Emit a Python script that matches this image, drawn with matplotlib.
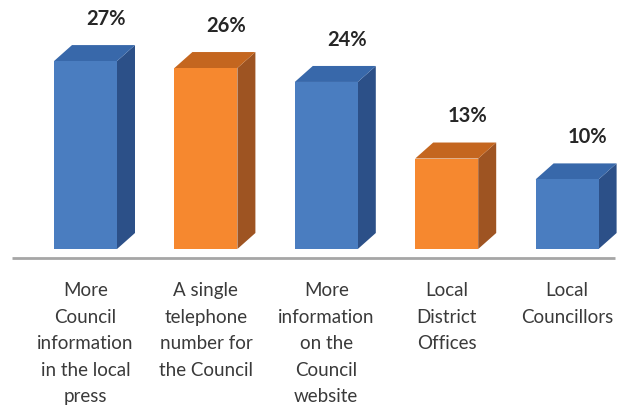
import matplotlib
matplotlib.use("Agg")
import matplotlib.pyplot as plt
from matplotlib.patches import Polygon

categories = ["More\nCouncil\ninformation\nin the local\npress",
              "A single\ntelephone\nnumber for\nthe Council",
              "More\ninformation\non the\nCouncil\nwebsite",
              "Local\nDistrict\nOffices",
              "Local\nCouncillors"]
values = [27, 26, 24, 13, 10]
labels = ["27%", "26%", "24%", "13%", "10%"]
kinds = ["blue", "orange", "blue", "orange", "blue"]

palette = {
    "blue": ("#4a7dc0", "#2c5088", "#3868aa"),
    "orange": ("#f6882f", "#9e5422", "#c4661f"),
}

W, H = 621, 409
fig = plt.figure(figsize=(W / 100, H / 100), dpi=100)
ax = fig.add_axes([0, 0, 1, 1])
pxx = 120.4   # px per category unit
pxy = 6.96    # px per percent
x0 = 85.5
base = 249
ax.set_xlim(-x0 / pxx, (W - x0) / pxx)
ax.set_ylim(-(H - base) / pxy, base / pxy)
ax.axis("off")

bw = 63 / pxx
dx = 18 / pxx
dy = 16 / pxy
font = "Lato"

xs = list(range(len(values)))
bars = ax.bar(xs, values, width=bw, color=[palette[k][0] for k in kinds],
              edgecolor="none", zorder=3)
for x, v, k, lab in zip(xs, values, kinds, labels):
    front, side, top = palette[k]
    l, r = x - bw / 2, x + bw / 2
    ax.add_patch(Polygon([(r, 0), (r + dx, dy), (r + dx, v + dy), (r, v)],
                         closed=True, facecolor=side, edgecolor="none", zorder=2))
    ax.add_patch(Polygon([(l, v), (r, v), (r + dx, v + dy), (l + dx, v + dy)],
                         closed=True, facecolor=top, edgecolor="none", zorder=2))
    ax.text(x + dx + 0.02, v + dy + 3.75, lab, ha="center", va="center",
            fontsize=14.5, fontweight="bold", family=font, color="#262626")
    ax.text(x, -4.8, categories[x], ha="center", va="top", fontsize=13.5,
            family=font, color="#3a3a3a", linespacing=1.68)

ax.plot([(12 - x0) / pxx, (615 - x0) / pxx], [-9 / pxy, -9 / pxy],
        color="#a6a6a6", lw=2, solid_capstyle="butt", zorder=1)

fig.savefig("out.png", dpi=100)
